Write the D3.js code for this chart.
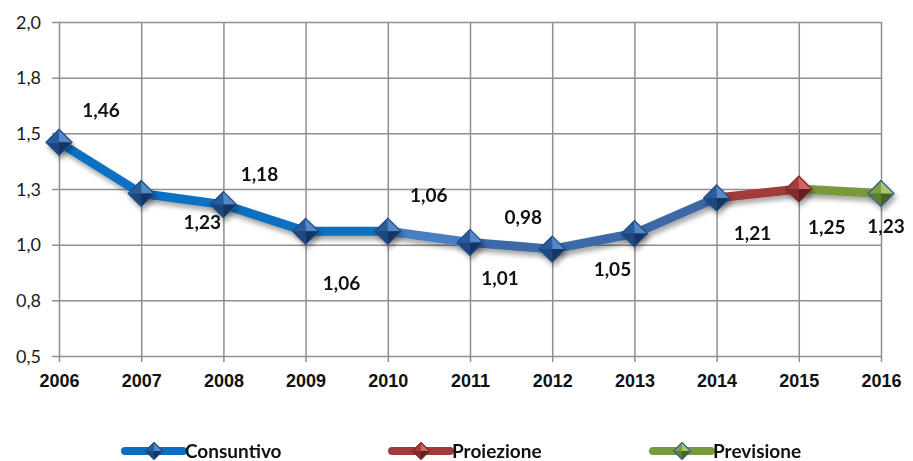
<!DOCTYPE html>
<html>
<head>
<meta charset="utf-8">
<script src="https://cdn.jsdelivr.net/npm/d3@7"></script>
<style>
  html, body { margin: 0; padding: 0; background: #fff; }
  svg { display: block; font-family: Lato, "Open Sans", sans-serif; }
  .axis path { display: none; }
  .grid line { stroke: #8f8f8f; stroke-width: 1.5; }
</style>
</head>
<body>
<svg id="chart" width="913" height="461"></svg>
<script>
// --- data ---
const years = [2006, 2007, 2008, 2009, 2010, 2011, 2012, 2013, 2014, 2015, 2016];
const values = [1.46, 1.23, 1.18, 1.06, 1.06, 1.01, 0.98, 1.05, 1.21, 1.25, 1.23];
const valueLabels = ["1,46", "1,23", "1,18", "1,06", "1,06", "1,01", "0,98", "1,05", "1,21", "1,25", "1,23"];
const seriesNames = ["Consuntivo", "Proiezione", "Previsione"];
// which series each point belongs to
const pointSeries = [0, 0, 0, 0, 0, 0, 0, 0, 0, 1, 2];
const yTicks = [0.5, 0.75, 1.0, 1.25, 1.5, 1.75, 2.0];
const yTickLabels = ["0,5", "0,8", "1,0", "1,3", "1,5", "1,8", "2,0"];

// --- styles ---
const segColors = ["#0a6fc2", "#0a6fc2", "#0a6fc2", "#0a6fc2", "#4a7fc0", "#3c69a6", "#3c69a6", "#3c69a6", "#a33a39", "#789a3d"];
const seriesColors = ["#0a6fc2", "#a33a39", "#789a3d"];
const markerShades = [
  ["#5588c8", "#2a5c9c", "#1c4780", "#133664"],
  ["#d26464", "#a83a3a", "#842a2a", "#661d1d"],
  ["#a9c86a", "#7e9f3e", "#62802c", "#4a6321"]
];
const markerStroke = ["#1c4a85", "#7a2727", "#2f5f99"];
const labelOffsets = [[42, -32], [61, 29], [36, -30], [36, 52], [41, -36], [30, 36],
                      [-29, -32], [-22, 36], [36, 35], [28, 38], [5, 33]];
const legendPos = [125, 392, 653];

const svg = d3.select("#chart");
const margin = { left: 59, right: 32, top: 22, bottom: 105 };
const W = 913, H = 461;

const x = d3.scalePoint().domain(years).range([margin.left, W - margin.right]);
const y = d3.scaleLinear().domain([0.5, 2.0]).range([H - margin.bottom, margin.top]);

const defs = svg.append("defs");
const f = defs.append("filter").attr("id", "shadow")
  .attr("x", "-20%").attr("y", "-40%").attr("width", "150%").attr("height", "220%");
f.append("feDropShadow").attr("dx", 2).attr("dy", 4).attr("stdDeviation", 2.5)
  .attr("flood-color", "#000").attr("flood-opacity", 0.35);

// grid: horizontal
svg.append("g").attr("class", "grid")
  .attr("transform", `translate(${margin.left},0)`)
  .call(d3.axisLeft(y).tickValues(yTicks).tickSize(-(W - margin.right - margin.left)).tickFormat(""))
  .call(g => g.select(".domain").remove());

// grid: vertical
svg.append("g").attr("class", "grid")
  .attr("transform", `translate(0,${H - margin.bottom})`)
  .call(d3.axisBottom(x).tickSize(-(H - margin.bottom - margin.top)).tickFormat(""))
  .call(g => g.select(".domain").remove());

// outer tick marks
svg.append("g").attr("class", "grid")
  .attr("transform", `translate(${margin.left},0)`)
  .call(d3.axisLeft(y).tickValues(yTicks).tickSize(7).tickFormat(""))
  .call(g => g.select(".domain").remove());
svg.append("g").attr("class", "grid")
  .attr("transform", `translate(0,${H - margin.bottom})`)
  .call(d3.axisBottom(x).tickSize(6).tickFormat(""))
  .call(g => g.select(".domain").remove());

// y labels
const yAx = svg.append("g").attr("class", "axis")
  .attr("transform", `translate(${margin.left - 18},0)`)
  .call(d3.axisLeft(y).tickValues(yTicks).tickSize(0).tickFormat((d, i) => yTickLabels[i]));
yAx.selectAll("text").attr("font-size", 18).attr("fill", "#1a1a1a")
  .attr("font-family", "Lato, sans-serif").attr("dy", "0.35em").attr("x", 0);

// x labels
const xAx = svg.append("g").attr("class", "axis")
  .attr("transform", `translate(0,${H - margin.bottom + 18})`)
  .call(d3.axisBottom(x).tickSize(0));
xAx.selectAll("text").attr("font-size", 18).attr("font-weight", "bold").attr("fill", "#111")
  .attr("dy", "0.71em").attr("y", 0);

// line segments
const pts = years.map((yr, i) => ({ yr, v: values[i], s: pointSeries[i], i }));
const segs = d3.pairs(pts);
const lineG = svg.append("g").attr("filter", "url(#shadow)");
lineG.selectAll("line").data(segs).enter().append("line")
  .attr("x1", d => x(d[0].yr)).attr("y1", d => y(d[0].v))
  .attr("x2", d => x(d[1].yr)).attr("y2", d => y(d[1].v))
  .attr("stroke", (d, i) => segColors[i])
  .attr("stroke-width", 9)
  .attr("stroke-linecap", "butt");

// diamond marker
function drawDiamond(g, cx, cy, s, r) {
  const sh = markerShades[s];
  const mg = g.append("g").attr("transform", `translate(${cx},${cy})`);
  const faces = [
    [[0, -r], [r, 0], [0, 0]],
    [[0, -r], [-r, 0], [0, 0]],
    [[-r, 0], [0, r], [0, 0]],
    [[r, 0], [0, r], [0, 0]]
  ];
  mg.selectAll("path.face").data(faces).enter().append("path")
    .attr("d", d => "M" + d.join("L") + "Z")
    .attr("fill", (d, i) => sh[i]);
  mg.append("path")
    .attr("d", `M0,${-r}L${r},0L0,${r}L${-r},0Z`)
    .attr("fill", "none")
    .attr("stroke", markerStroke[s])
    .attr("stroke-width", 1.2);
  return mg;
}

const markG = svg.append("g").attr("filter", "url(#shadow)");
pts.forEach(p => drawDiamond(markG, x(p.yr), y(p.v), p.s, 13));

// data labels
svg.append("g").selectAll("text").data(pts).enter().append("text")
  .attr("x", d => x(d.yr) + labelOffsets[d.i][0])
  .attr("y", d => y(d.v) + labelOffsets[d.i][1])
  .attr("text-anchor", "middle").attr("dy", "0.35em")
  .attr("font-size", 19).attr("font-weight", "bold").attr("fill", "#111")
  .text(d => valueLabels[d.i]);

// legend
const legY = 451;
seriesNames.forEach((name, i) => {
  const lx = legendPos[i];
  const lg = svg.append("g");
  lg.append("line")
    .attr("x1", lx).attr("x2", lx + 58).attr("y1", legY).attr("y2", legY)
    .attr("stroke", seriesColors[i]).attr("stroke-width", 8).attr("stroke-linecap", "round");
  drawDiamond(lg, lx + 29, legY, i, 8.5);
  lg.append("text").attr("x", lx + 60).attr("y", legY).attr("dy", "0.35em")
    .attr("font-size", 19).attr("font-weight", "bold").attr("fill", "#111")
    .text(name);
});
</script>
</body>
</html>
